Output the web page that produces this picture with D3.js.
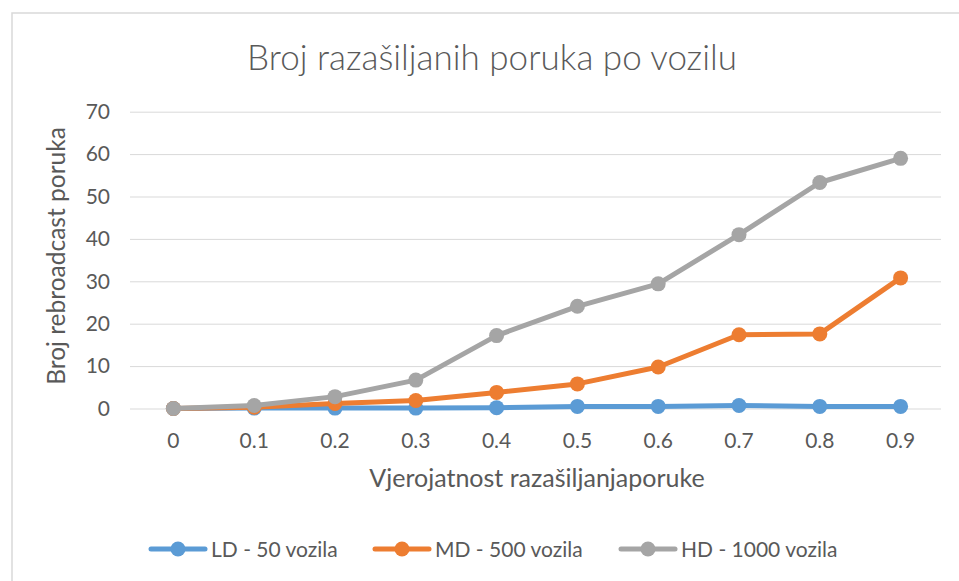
<!DOCTYPE html>
<html>
<head>
<meta charset="utf-8">
<script src="https://cdn.jsdelivr.net/npm/d3@7"></script>
<style>
  html, body { margin: 0; padding: 0; background: #fff; }
  svg { display: block; font-family: Lato, "Open Sans", sans-serif; }
</style>
</head>
<body>
<svg id="chart" width="959" height="581"></svg>
<script>
const categories = ["0", "0.1", "0.2", "0.3", "0.4", "0.5", "0.6", "0.7", "0.8", "0.9"];
const seriesNames = ["LD - 50 vozila", "MD - 500 vozila", "HD - 1000 vozila"];
const ldValues = [0, 0.1, 0.1, 0.1, 0.2, 0.5, 0.5, 0.7, 0.5, 0.5];
const mdValues = [0, 0.3, 1.2, 1.9, 3.8, 5.8, 9.8, 17.4, 17.6, 30.8];
const hdValues = [0, 0.7, 2.8, 6.7, 17.2, 24.1, 29.4, 41.0, 53.3, 59.0];
const yTicks = [0, 10, 20, 30, 40, 50, 60, 70];
const colors = ["#5B9BD5", "#ED7D31", "#A5A5A5"];
const titleText = "Broj razašiljanih poruka po vozilu";
const xTitle = "Vjerojatnost razašiljanjaporuke";
const yTitle = "Broj rebroadcast poruka";

const series = [ldValues, mdValues, hdValues].map((vals, i) => ({
  name: seriesNames[i], color: colors[i],
  points: categories.map((c, j) => ({ c, v: vals[j] }))
}));

const svg = d3.select("#chart");
const textColor = "#595959";

// chart border
svg.append("rect").attr("x", 12).attr("y", 13).attr("width", 1000).attr("height", 1000)
  .attr("fill", "#fff").attr("stroke", "#d9d9d9").attr("stroke-width", 1.5);

const x = d3.scaleBand().domain(categories).range([133, 941]);
const y = d3.scaleLinear().domain([0, 70]).range([408.5, 111.7]);

// gridlines + y axis
const yAxis = d3.axisLeft(y).tickValues(yTicks).tickSize(-(941 - 130)).tickPadding(20);
const gy = svg.append("g").attr("transform", "translate(130,0)").call(yAxis);
gy.select(".domain").remove();
gy.selectAll(".tick line").attr("stroke", "#d9d9d9").attr("stroke-width", 1);
gy.selectAll(".tick text").attr("fill", textColor).style("font-size", "21px")
  .style("font-family", "Lato, sans-serif");

// x axis labels
const xAxis = d3.axisBottom(x).tickSize(0).tickPadding(24.5);
const gx = svg.append("g").attr("transform", "translate(0,408.5)").call(xAxis);
gx.select(".domain").remove();
gx.selectAll(".tick text").attr("fill", textColor).style("font-size", "21px")
  .style("font-family", "Lato, sans-serif");

// lines
const line = d3.line().x(d => x(d.c) + x.bandwidth() / 2).y(d => y(d.v));
series.forEach(s => {
  svg.append("path").datum(s.points).attr("d", line)
    .attr("fill", "none").attr("stroke", s.color).attr("stroke-width", 5)
    .attr("stroke-linejoin", "round").attr("stroke-linecap", "round");
  svg.append("g").selectAll("circle").data(s.points).join("circle")
    .attr("cx", d => x(d.c) + x.bandwidth() / 2).attr("cy", d => y(d.v))
    .attr("r", 7.5).attr("fill", s.color);
});

// title
svg.append("text").attr("x", 492).attr("y", 70).attr("text-anchor", "middle")
  .attr("fill", textColor).style("font-size", "35px").style("font-weight", 300).text(titleText);

// axis titles
svg.append("text").attr("x", 537).attr("y", 487).attr("text-anchor", "middle")
  .attr("fill", textColor).style("font-size", "25px").text(xTitle);
svg.append("text").attr("transform", "translate(65,256) rotate(-90)").attr("text-anchor", "middle")
  .attr("fill", textColor).style("font-size", "24.5px").text(yTitle);

// legend
const legendX = [151, 375, 621];
const lg = svg.append("g").selectAll("g").data(series).join("g")
  .attr("transform", (d, i) => `translate(${legendX[i]},549)`);
lg.append("line").attr("x1", 0).attr("x2", 54).attr("y1", 0).attr("y2", 0)
  .attr("stroke", d => d.color).attr("stroke-width", 5).attr("stroke-linecap", "round");
lg.append("circle").attr("cx", 27).attr("cy", 0).attr("r", 7.5).attr("fill", d => d.color);
lg.append("text").attr("x", 60).attr("y", 7.5).attr("fill", textColor)
  .style("font-size", "21px").text(d => d.name);
</script>
</body>
</html>
